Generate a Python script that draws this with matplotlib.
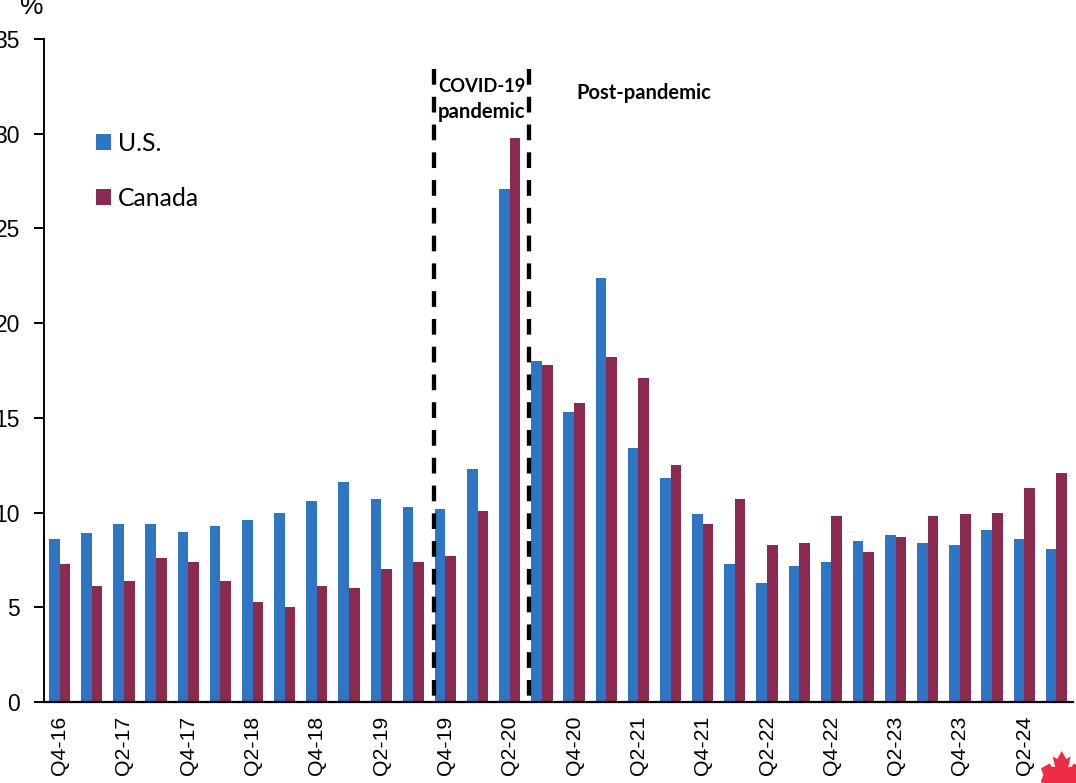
import matplotlib
matplotlib.use('Agg')
import matplotlib.pyplot as plt
from matplotlib.patches import Polygon
from matplotlib.transforms import IdentityTransform
import numpy as np

W, H = 1076, 783

quarters = ['Q4-16', 'Q1-17', 'Q2-17', 'Q3-17', 'Q4-17', 'Q1-18', 'Q2-18', 'Q3-18',
            'Q4-18', 'Q1-19', 'Q2-19', 'Q3-19', 'Q4-19', 'Q1-20', 'Q2-20', 'Q3-20',
            'Q4-20', 'Q1-21', 'Q2-21', 'Q3-21', 'Q4-21', 'Q1-22', 'Q2-22', 'Q3-22',
            'Q4-22', 'Q1-23', 'Q2-23', 'Q3-23', 'Q4-23', 'Q1-24', 'Q2-24', 'Q3-24']
us = [8.6, 8.9, 9.4, 9.4, 9.0, 9.3, 9.6, 10.0, 10.6, 11.6, 10.7, 10.3, 10.2, 12.3, 27.1, 18.0,
      15.3, 22.4, 13.4, 11.8, 9.9, 7.3, 6.3, 7.2, 7.4, 8.5, 8.8, 8.4, 8.3, 9.1, 8.6, 8.1]
canada = [7.3, 6.1, 6.4, 7.6, 7.4, 6.4, 5.3, 5.0, 6.1, 6.0, 7.0, 7.4, 7.7, 10.1, 29.8, 17.8,
          15.8, 18.2, 17.1, 12.5, 9.4, 10.7, 8.3, 8.4, 9.8, 7.9, 8.7, 9.8, 9.9, 10.0, 11.3, 12.1]
pandemic_edges = [11.64, 14.61]

BLUE = '#2E75C4'
MAROON = '#8B2A50'

fig = plt.figure(figsize=(W / 100, H / 100), dpi=100)
ax = fig.add_axes([43.5 / W, 1 - 702 / H, (1072.5 - 43.5) / W, (702 - 39) / H])

x = np.arange(len(quarters))
bw = 0.33
ax.bar(x - bw / 2, us, bw, color=BLUE, label='U.S.')
ax.bar(x + bw / 2, canada, bw, color=MAROON, label='Canada')

ax.set_xlim(-0.5, len(quarters) - 0.5)
ax.set_ylim(0, 35)
ax.set_yticks(range(0, 36, 5))
ax.set_xticks(x[::2])
ax.set_xticklabels(quarters[::2], rotation=90, family='Liberation Sans', fontsize=15.3)
ax.tick_params(axis='x', length=0, pad=10)
ax.tick_params(axis='y', length=7.5, width=1.4, direction='out', pad=9.5, labelsize=16.5)
for t in ax.get_yticklabels():
    t.set_family('Liberation Sans')

ax.spines['top'].set_visible(False)
ax.spines['right'].set_visible(False)
ax.spines['left'].set_linewidth(1.4)
ax.spines['bottom'].set_linewidth(1.6)

# pandemic window, dashes run down from the top
for edge in pandemic_edges:
    ax.plot([edge, edge], [33.39, 0], color='black', lw=3.1, dashes=(3.65, 2.8),
            dash_capstyle='butt', zorder=4)

bold = dict(ha='center', va='center', family='Lato', weight='bold')
ax.text(13.13, (702 - 86) / 663 * 35, 'COVID-19', fontsize=13.2, **bold)
ax.text(13.13, (702 - 112) / 663 * 35, 'pandemic', fontsize=14.6, **bold)
ax.text(18.16, (702 - 93) / 663 * 35, 'Post-pandemic', fontsize=14.5, **bold)

fig.text(32 / W, 1 - 7 / H, '%', ha='center', va='center', family='Liberation Sans', fontsize=19)

ax.legend(loc='upper left', bbox_to_anchor=(96 / W, 1 - 132 / H), bbox_transform=fig.transFigure,
          frameon=False, prop={'family': 'Lato', 'size': 17.8}, handlelength=0.61, handleheight=0.61,
          handletextpad=0.27, labelspacing=1.28, borderaxespad=0, borderpad=0)

# maple leaf in the corner: left half as offsets from its stem line, then mirrored
leaf_cx = 1061.7
leaf_half = [(0, 751), (-4.5, 759), (-9, 756.5), (-6.5, 767), (-10, 766.7), (-12, 763.5),
             (-20.7, 768.3), (-18.3, 775), (-21, 781.7), (-14, 786)]
leaf_pts = [(leaf_cx + dx, H - py) for dx, py in leaf_half]
leaf_pts += [(leaf_cx - dx, H - py) for dx, py in reversed(leaf_half[1:])]
fig.add_artist(Polygon(leaf_pts, closed=True, color='#EE2C44', lw=0, transform=IdentityTransform()))

fig.savefig('out.png', dpi=100)
